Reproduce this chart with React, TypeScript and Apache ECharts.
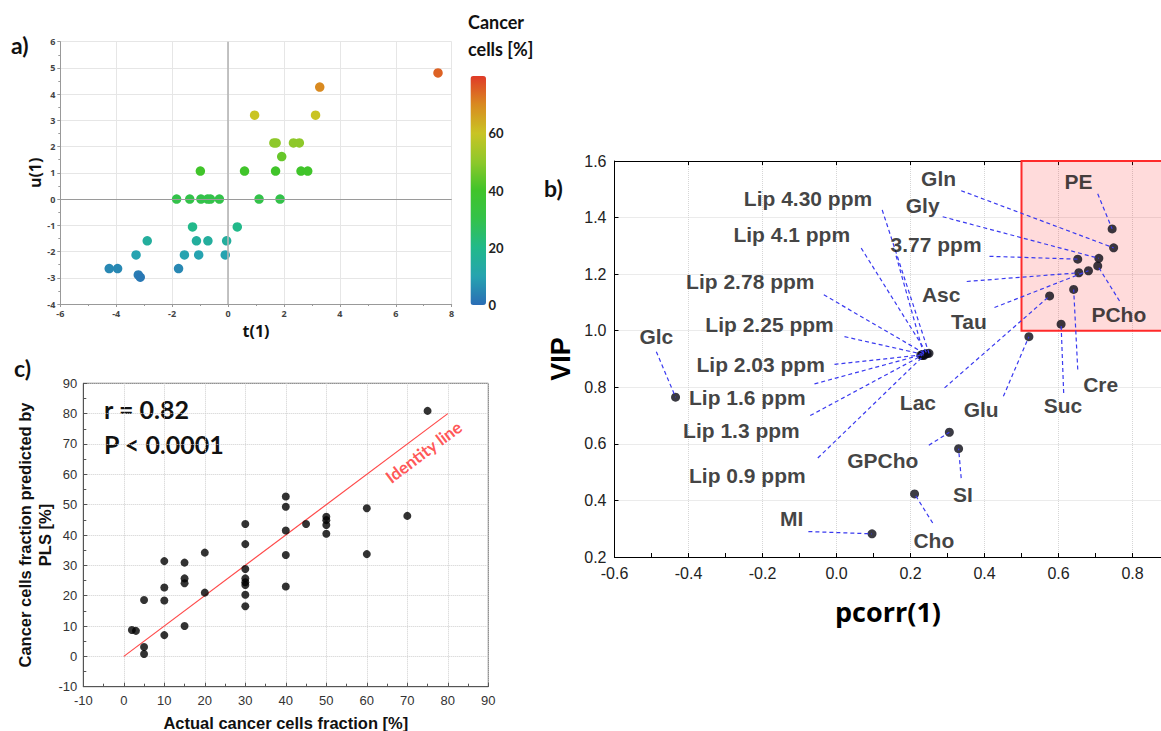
import React, { useEffect, useRef } from 'react';
import * as echarts from 'echarts';

// ---------- Panel a: PLS scores ----------
const scoreT = [7.51, 3.28, 0.95, 3.13, 1.64, 1.72, 2.34, 2.55, 1.92, -0.99, 0.59, 1.70, 2.61, 2.85,
  -1.84, -1.37, -0.97, -0.73, -0.63, -0.31, 1.11, 1.86, -1.27, 0.33, -2.89, -1.13, -0.72, -0.05,
  -3.29, -1.56, -1.05, -0.10, -4.25, -3.95, -1.77, -3.21, -3.14];
const scoreU = [4.81, 4.27, 3.20, 3.20, 2.14, 2.14, 2.14, 2.14, 1.62, 1.07, 1.07, 1.07, 1.07, 1.07,
  0, 0, 0, 0, 0, 0, 0, 0, -1.06, -1.06, -1.59, -1.59, -1.59, -1.59,
  -2.13, -2.13, -2.13, -2.13, -2.65, -2.65, -2.65, -2.89, -2.98];
const scoreCancerPct = [75, 70, 60, 60, 50, 50, 50, 50, 45, 40, 40, 40, 40, 40,
  30, 30, 30, 30, 30, 30, 30, 30, 20, 20, 15, 15, 15, 15,
  10, 10, 10, 10, 5, 5, 5, 3, 2];
const colorbarTicks = [0, 20, 40, 60];

// ---------- Panel b: VIP vs pcorr ----------
const metabolites = ['PE', 'Gln', 'Gly', 'PCho', '3.77 ppm', 'Tau', 'Asc', 'Cre', 'Lac', 'Suc', 'Glu',
  'Lip 4.30 ppm', 'Lip 4.1 ppm', 'Lip 2.78 ppm', 'Lip 2.25 ppm', 'Lip 2.03 ppm', 'Lip 1.6 ppm',
  'Lip 1.3 ppm', 'Lip 0.9 ppm', 'Glc', 'GPCho', 'SI', 'Cho', 'MI'];
const pcorr = [0.745, 0.749, 0.709, 0.706, 0.652, 0.681, 0.655, 0.641, 0.576, 0.607, 0.520,
  0.250, 0.245, 0.240, 0.236, 0.232, 0.228, 0.232, 0.236, -0.435, 0.305, 0.330, 0.211, 0.096];
const vip = [1.360, 1.293, 1.256, 1.229, 1.253, 1.212, 1.205, 1.146, 1.123, 1.023, 0.979,
  0.920, 0.919, 0.918, 0.916, 0.915, 0.914, 0.913, 0.912, 0.765, 0.641, 0.583, 0.423, 0.282];
// label anchors (in pcorr / VIP units)
const labelPcorr = [0.654, 0.276, 0.233, 0.763, 0.269, 0.358, 0.283, 0.714, 0.220, 0.612, 0.391,
  -0.077, -0.121, -0.233, -0.181, -0.205, -0.241, -0.257, -0.241, -0.487, 0.125, 0.342, 0.263, -0.121];
const labelVip = [1.527, 1.539, 1.442, 1.056, 1.306, 1.034, 1.127, 0.810, 0.747, 0.735, 0.721,
  1.468, 1.339, 1.173, 1.023, 0.881, 0.763, 0.648, 0.488, 0.978, 0.540, 0.422, 0.258, 0.337];
// leader line starting points (in pcorr / VIP units)
const leaderPcorr = [0.706, 0.337, 0.287, 0.765, 0.4135, 0.427, 0.352, 0.652, 0.292, 0.614, 0.451,
  0.1235, 0.0668, -0.0343, 0.0216, -0.0054, -0.0595, -0.071, -0.0505, -0.487, 0.2495, 0.337, 0.260, -0.076];
const leaderVip = [1.484, 1.495, 1.403, 1.105, 1.263, 1.082, 1.174, 0.863, 0.798, 0.780, 0.768,
  1.427, 1.292, 1.127, 0.979, 0.881, 0.812, 0.700, 0.550, 0.926, 0.595, 0.479, 0.320, 0.290];
const extraLeaderFromPcorr = [0.161];
const extraLeaderFromVip = [1.265];
const extraLeaderToPcorr = [0.236];
const extraLeaderToVip = [0.916];
const highlightBox = { pcorrFrom: 0.5, pcorrTo: 1.0, vipFrom: 1.0, vipTo: 1.6 };

// ---------- Panel c: actual vs predicted ----------
const actualPct = [75, 70, 60, 60, 50, 50, 50, 50, 45, 40, 40, 40, 40, 40,
  30, 30, 30, 30, 30, 30, 30, 30, 20, 20, 15, 15, 15, 15, 10, 10, 10, 10, 5, 5, 5, 2, 3];
const predictedPct = [80.9, 46.3, 48.8, 33.7, 46.0, 44.9, 43.3, 40.4, 43.6, 52.7, 49.3, 41.5, 33.4, 23.0,
  43.6, 37.0, 28.8, 25.7, 24.4, 23.5, 20.3, 16.5, 34.2, 21.0, 30.9, 25.7, 24.1, 10.0,
  31.4, 22.7, 18.4, 7.0, 18.6, 3.1, 0.8, 8.7, 8.4];
const identityLine = [[0, 0], [80, 80]];
const identityLabelAt = [74, 67.4];
const statsText = ['r = 0.82', 'P < 0.0001'];

const ARIAL = "'Liberation Sans', Arial, sans-serif";
const OPEN = "'Open Sans', sans-serif";
const LATO = "Lato, 'Open Sans', sans-serif";

function fmt1(v: number) {
  return Math.abs(v) < 1e-9 ? '0.0' : v.toFixed(1);
}

function buildOption() {
  const aData = scoreT.map((t, i) => [t, scoreU[i], scoreCancerPct[i]]);
  const bData = metabolites.map((n, i) => [pcorr[i], vip[i], n]);
  const bLabels = metabolites.map((n, i) => [labelPcorr[i], labelVip[i], n]);
  const leaders: any[] = metabolites.map((n, i) => [
    { coord: [leaderPcorr[i], leaderVip[i]] },
    { coord: [pcorr[i], vip[i]] },
  ]);
  extraLeaderFromPcorr.forEach((x, i) => {
    leaders.push([
      { coord: [x, extraLeaderFromVip[i]] },
      { coord: [extraLeaderToPcorr[i], extraLeaderToVip[i]] },
    ]);
  });
  const cData = actualPct.map((a, i) => [a, predictedPct[i]]);

  const aAxisLabel = { fontSize: 9, fontWeight: 'bold', color: '#444', fontFamily: OPEN, margin: 5 };

  return {
    animation: false,
    backgroundColor: '#ffffff',
    textStyle: { fontFamily: ARIAL },
    grid: [
      { left: 60.3, top: 41.7, width: 391.4, height: 262.3, outerBoundsMode: 'none' },
      { left: 470.5, top: 76, width: 15.5, height: 229, outerBoundsMode: 'none' },
      { left: 614.5, top: 161, width: 592, height: 396, outerBoundsMode: 'none' },
      { left: 83.3, top: 383.3, width: 405, height: 303.4, show: true, borderColor: '#555', borderWidth: 1, backgroundColor: 'transparent', outerBoundsMode: 'none' },
    ],
    visualMap: {
      type: 'continuous',
      min: 0,
      max: 80,
      seriesIndex: 1,
      dimension: 2,
      left: 470.5,
      top: 76,
      itemWidth: 15.5,
      itemHeight: 229,
      padding: 0,
      calculable: false,
      hoverLink: false,
      inRange: {
        color: ['#2a6db5', '#26a3b0', '#22b98a', '#33c24a', '#40c42a', '#8ec82a', '#c9c423', '#d98a20', '#e03a28'],
      },
    },
    xAxis: [
      {
        gridIndex: 0, type: 'value', min: -6, max: 8, interval: 2,
        axisLine: { onZero: false, lineStyle: { color: '#999' } },
        axisTick: { show: true, length: 3, lineStyle: { color: '#999' } },
        minorTick: { show: true, splitNumber: 2, length: 2, lineStyle: { color: '#999' } },
        splitLine: { show: true, lineStyle: { color: '#e6e6e6' } },
        axisLabel: aAxisLabel,
        name: 't(1)', nameLocation: 'middle', nameGap: 19,
        nameTextStyle: { fontSize: 16, fontWeight: 'bold', color: '#111', fontFamily: OPEN },
      },
      { gridIndex: 1, type: 'value', min: 0, max: 1, show: false },
      {
        gridIndex: 2, type: 'value', min: -0.6, max: 1.0, interval: 0.2,
        axisLine: { onZero: false, lineStyle: { color: '#000' } },
        axisTick: { show: true, inside: true, length: 4, lineStyle: { color: '#000' } },
        minorTick: { show: true, splitNumber: 2, length: 4, lineStyle: { color: '#000' } },
        splitLine: { show: true, lineStyle: { color: '#d6d6d6', type: 'dotted' } },
        axisLabel: { fontSize: 16, color: '#222', fontFamily: ARIAL, margin: 8, formatter: fmt1, showMaxLabel: false },
      },
      {
        gridIndex: 2, type: 'value', position: 'top', min: -0.6, max: 1.0, interval: 0.2,
        axisLine: { onZero: false, lineStyle: { color: '#000' } },
        axisTick: { show: true, inside: true, length: 4, lineStyle: { color: '#000' } },
        axisLabel: { show: false },
        splitLine: { show: false },
      },
      {
        gridIndex: 3, type: 'value', min: -10, max: 90, interval: 10,
        axisLine: { onZero: false, lineStyle: { color: '#555' } },
        axisTick: { show: true, inside: true, length: 4, lineStyle: { color: '#555' } },
        minorTick: { show: true, splitNumber: 2, length: 3, lineStyle: { color: '#555' } },
        splitLine: { show: true, lineStyle: { color: '#cfcfcf', type: 'dotted' } },
        axisLabel: { fontSize: 13, color: '#333', fontFamily: ARIAL, margin: 7 },
        name: 'Actual cancer cells fraction [%]', nameLocation: 'middle', nameGap: 28,
        nameTextStyle: { fontSize: 16.5, fontWeight: 'bold', color: '#111', fontFamily: ARIAL },
      },
    ],
    yAxis: [
      {
        gridIndex: 0, type: 'value', min: -4, max: 6, interval: 1,
        axisLine: { onZero: false, lineStyle: { color: '#999' } },
        axisTick: { show: true, length: 3, lineStyle: { color: '#999' } },
        minorTick: { show: true, splitNumber: 2, length: 2, lineStyle: { color: '#999' } },
        splitLine: { show: true, lineStyle: { color: '#e6e6e6' } },
        axisLabel: aAxisLabel,
        name: 'u(1)', nameLocation: 'middle', nameGap: 17, nameRotate: 90,
        nameTextStyle: { fontSize: 16, fontWeight: 'bold', color: '#111', fontFamily: OPEN },
      },
      {
        gridIndex: 1, type: 'value', position: 'right', min: 0, max: 80, interval: 20,
        axisLine: { show: false }, axisTick: { show: false }, splitLine: { show: false },
        axisLabel: {
          fontSize: 13, fontWeight: 'bold', color: '#222', fontFamily: LATO, margin: 2.5,
          showMaxLabel: false,
          formatter: (v: number) => (colorbarTicks.indexOf(v) >= 0 ? String(v) : ''),
        },
      },
      {
        gridIndex: 2, type: 'value', min: 0.2, max: 1.6, interval: 0.2,
        axisLine: { onZero: false, lineStyle: { color: '#000' } },
        axisTick: { show: true, inside: true, length: 4, lineStyle: { color: '#000' } },
        splitLine: { show: true, lineStyle: { color: '#d6d6d6', type: 'dotted' } },
        axisLabel: { fontSize: 16, color: '#222', fontFamily: ARIAL, margin: 8, formatter: fmt1 },
        name: 'VIP', nameLocation: 'middle', nameGap: 40, nameRotate: 90,
        nameTextStyle: { fontSize: 27, fontWeight: 'bold', color: '#000', fontFamily: ARIAL },
      },
      {
        gridIndex: 3, type: 'value', min: -10, max: 90, interval: 10,
        axisLine: { onZero: false, lineStyle: { color: '#555' } },
        axisTick: { show: true, inside: true, length: 4, lineStyle: { color: '#555' } },
        minorTick: { show: true, splitNumber: 2, length: 3, lineStyle: { color: '#555' } },
        splitLine: { show: true, lineStyle: { color: '#cfcfcf', type: 'dotted' } },
        axisLabel: { fontSize: 13, color: '#333', fontFamily: ARIAL, margin: 6 },
        name: 'Cancer cells fraction predicted by\nPLS [%]', nameLocation: 'middle', nameGap: 28, nameRotate: 90,
        nameTextStyle: { fontSize: 16.5, fontWeight: 'bold', color: '#111', fontFamily: ARIAL, lineHeight: 20 },
      },
    ],
    series: [
      // 0: zero lines for panel a
      {
        type: 'scatter', xAxisIndex: 0, yAxisIndex: 0, data: [], z: 1, silent: true,
        markLine: {
          silent: true, symbol: ['none', 'none'], label: { show: false },
          data: [
            { xAxis: 0, lineStyle: { color: '#b5b5b5', width: 1.6, type: 'solid' } },
            { yAxis: 0, lineStyle: { color: '#9a9a9a', width: 1, type: 'solid' } },
          ],
        },
      },
      // 1: scores
      {
        type: 'scatter', xAxisIndex: 0, yAxisIndex: 0, data: aData, symbolSize: 9.5, z: 3,
        itemStyle: { opacity: 1 },
      },
      // 2: highlight box panel b
      {
        type: 'scatter', xAxisIndex: 2, yAxisIndex: 2, data: [], z: 1, silent: true,
        markArea: {
          silent: true,
          itemStyle: { color: 'rgba(255,0,0,0.14)', borderColor: '#ff2a2a', borderWidth: 2 },
          data: [[
            { coord: [highlightBox.pcorrFrom, highlightBox.vipFrom] },
            { coord: [highlightBox.pcorrTo, highlightBox.vipTo] },
          ]],
        },
      },
      // 3: leader lines
      {
        type: 'scatter', xAxisIndex: 2, yAxisIndex: 2, data: [], z: 2, silent: true,
        markLine: {
          silent: true, symbol: ['none', 'none'], label: { show: false },
          lineStyle: { color: '#3a3af0', width: 1.2, type: [4, 3] },
          data: leaders,
        },
      },
      // 4: VIP points
      {
        type: 'scatter', xAxisIndex: 2, yAxisIndex: 2, data: bData, symbolSize: 9, z: 4,
        itemStyle: { color: '#0a0a14' },
      },
      // 5: metabolite labels
      {
        type: 'scatter', xAxisIndex: 2, yAxisIndex: 2, data: bLabels, symbolSize: 0, z: 5, silent: true,
        label: {
          show: true, position: 'inside', formatter: (p: any) => p.data[2],
          fontSize: 21, fontWeight: 'bold', color: '#111', fontFamily: ARIAL,
        },
      },
      // 6: identity line
      {
        type: 'line', xAxisIndex: 4, yAxisIndex: 3, data: identityLine, showSymbol: false, symbol: 'none',
        lineStyle: { color: '#ff4a4a', width: 1.2 }, z: 2, silent: true,
      },
      // 7: panel c points
      {
        type: 'scatter', xAxisIndex: 4, yAxisIndex: 3, data: cData, symbolSize: 8, z: 3,
        itemStyle: { color: '#000' },
      },
      // 8: identity line label
      {
        type: 'scatter', xAxisIndex: 4, yAxisIndex: 3, data: [identityLabelAt], symbolSize: 0, z: 4, silent: true,
        label: {
          show: true, position: 'inside', rotate: 37, formatter: 'Identity line',
          fontSize: 17, fontWeight: 'bold', color: '#ff2b2b', fontFamily: LATO,
        },
      },
    ],
    graphic: [
      { type: 'text', left: 11, top: 33, style: { text: 'a)', font: `bold 23px ${LATO}`, fill: '#111' } },
      { type: 'text', left: 544, top: 176, style: { text: 'b)', font: `bold 23px ${LATO}`, fill: '#111' } },
      { type: 'text', left: 14, top: 356, style: { text: 'c)', font: `bold 23px ${LATO}`, fill: '#111' } },
      { type: 'text', left: 468, top: 13, style: { text: 'Cancer', font: `bold 18px ${LATO}`, fill: '#111' } },
      { type: 'text', left: 468, top: 40, style: { text: 'cells [%]', font: `bold 18px ${LATO}`, fill: '#111' } },
      { type: 'text', left: 104, top: 396, style: { text: statsText[0], font: `bold 25px ${LATO}`, fill: '#111' } },
      { type: 'text', left: 104, top: 431, style: { text: statsText[1], font: `bold 25px ${LATO}`, fill: '#111' } },
      {
        type: 'text', x: 888, y: 611,
        style: { text: 'pcorr(1)', font: `bold 27px ${OPEN}`, fill: '#000', align: 'center', verticalAlign: 'middle' },
      },
    ],
  };
}

export default function App() {
  const ref = useRef<HTMLDivElement>(null);
  useEffect(() => {
    if (!ref.current) return;
    const chart = echarts.init(ref.current, null, { renderer: 'svg' });
    chart.setOption(buildOption() as any);
    return () => chart.dispose();
  }, []);
  return (
    <div style={{ position: 'absolute', left: 0, top: 0, width: 1161, height: 731, background: '#fff', overflow: 'hidden' }}>
      <div ref={ref} style={{ position: 'absolute', left: 0, top: 0, width: 1225, height: 731 }} />
    </div>
  );
}
